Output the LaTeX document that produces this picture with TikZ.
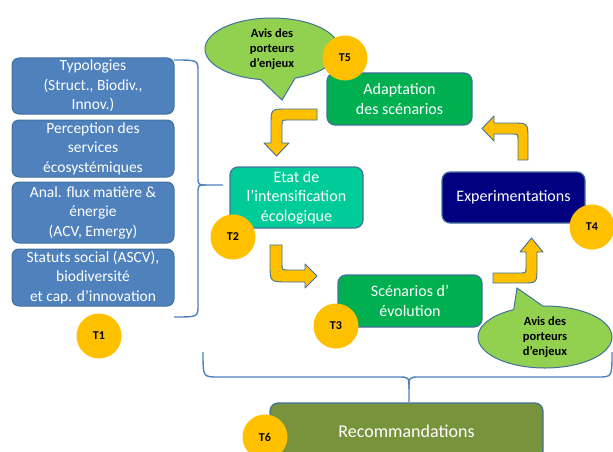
\documentclass[tikz,border=0pt]{standalone}
\usepackage{fontspec}
\setmainfont{Carlito}
\usetikzlibrary{shapes.callouts,shapes.geometric}
\definecolor{bordc}{HTML}{41719C}
\definecolor{boxblue}{HTML}{4F81BD}
\definecolor{braceblue}{HTML}{4F81BD}
\definecolor{grbox}{HTML}{00B050}
\definecolor{tealbox}{HTML}{00CC99}
\definecolor{navybox}{HTML}{000080}
\definecolor{olivebox}{HTML}{77933C}
\definecolor{tagyellow}{HTML}{FFC000}
\definecolor{avisgreen}{HTML}{92D050}
\begin{document}
\begin{tikzpicture}[x=1pt,y=-1pt,
  bluebox/.style={draw=bordc, line width=1pt, fill=boxblue, rounded corners=7pt, text=white, align=center,
    font=\fontsize{15.5}{19.5}\selectfont, minimum width=162pt, inner sep=0pt},
  mainbox/.style={draw=bordc, line width=1.2pt, rounded corners=8pt, text=white, align=center,
    font=\fontsize{16}{19.5}\selectfont, inner sep=0pt},
  tag/.style={circle, fill=tagyellow, minimum size=45pt, inner sep=0pt, font=\bfseries\fontsize{12}{14}\selectfont},
  avisbubble/.style={ellipse callout, draw=bordc, line width=1pt, fill=avisgreen, inner sep=0pt, align=center,
    font=\bfseries\fontsize{12.5}{15}\selectfont, minimum width=134pt, minimum height=62pt},
  yarrow/.style={fill=tagyellow, draw=bordc, line width=0.9pt, line join=round},
  bracestyle/.style={draw=braceblue, line width=1.4pt}
]
\useasboundingbox (0,0) rectangle (613,452);

% left column boxes
\node[bluebox, minimum height=56pt] (b1) at (93,86) {Typologies\\(Struct., Biodiv.,\\Innov.)};
\node[bluebox, minimum height=57pt] (b2) at (93,148.5) {Perception des\\services\\écosystémiques};
\node[bluebox, minimum height=61pt] (b3) at (93,212.5) {Anal. flux matière \&\\énergie\\(ACV, Emergy)};
\node[bluebox, minimum height=57pt] (b4) at (93,277.5) {Statuts social (ASCV),\\biodiversité\\et cap. d’innovation};

% left brace
\draw[bracestyle] (174,60) .. controls (198,60) .. (198,72) -- (198,176)
  .. controls (198,185) .. (206,185) -- (223,185);
\draw[bracestyle] (206,185) .. controls (198,185) .. (198,194) -- (198,305)
  .. controls (198,317) .. (174,317);

% main boxes
\node[mainbox, fill=grbox, minimum width=145pt, minimum height=52pt] (adapt) at (399.5,99) {Adaptation\\des scénarios};
\node[mainbox, fill=tealbox, minimum width=133pt, minimum height=61pt] (etat) at (296.5,197.5) {Etat de\\l’intensification\\écologique};
\node[mainbox, fill=grbox, minimum width=144pt, minimum height=52pt] (scen) at (410,301) {Scénarios d’\\évolution};
\node[mainbox, fill=navybox, minimum width=143pt, minimum height=51pt] (expe) at (513.5,197.5) {Experimentations};

% bottom brace
\draw[bracestyle] (203,352) .. controls (203,377) .. (218,377) -- (398,377)
  .. controls (409,377) .. (409,389) -- (409,402);
\draw[bracestyle] (409,389) .. controls (409,377) .. (420,377) -- (598,377)
  .. controls (612,377) .. (612,352);

\node[mainbox, fill=olivebox, minimum width=273pt, minimum height=56pt, font=\fontsize{18}{21}\selectfont] (reco) at (406.5,431) {Recommandations};

% bent arrows
\path[yarrow] (317,109) -- (287,109) .. controls (271,109) .. (271,125) -- (271,143) -- (264,143)
  -- (276.5,156) -- (289,143) -- (282,143) -- (282,126) .. controls (282,120) .. (288,120) -- (317,120) -- cycle;
\path[yarrow] (270,245) -- (270,264) .. controls (270,282) .. (288,282) -- (305,282) -- (305,288)
  -- (317,276) -- (305,264) -- (305,270) -- (288,270) .. controls (282,270) .. (282,264) -- (282,245) -- cycle;
\path[yarrow] (493,273) -- (520,273) .. controls (526,273) .. (526,267) -- (526,252) -- (520,252)
  -- (531.5,238) -- (543,252) -- (537,252) -- (537,268) .. controls (537,283) .. (522,283) -- (493,283) -- cycle;
\path[yarrow] (518,160) -- (518,140) .. controls (518,134) .. (512,134) -- (494,134) -- (494,141)
  -- (482,128.5) -- (494,116) -- (494,123) -- (512,123) .. controls (528,123) .. (528,139) -- (528,160) -- cycle;

% callouts
\node[avisbubble, callout absolute pointer={(282,100)}, callout pointer arc=30] (avis1) at (272,49) {Avis des\\porteurs\\d’enjeux};
\node[avisbubble, callout absolute pointer={(517,288)}, callout pointer arc=26] (avis2) at (545,337) {Avis des\\porteurs\\d’enjeux};

% tags
\node[tag] (t1) at (99,336) {T1};
\node[tag] (t2) at (233,237) {T2};
\node[tag] (t3) at (336,326) {T3};
\node[tag] (t4) at (592,227) {T4};
\node[tag] (t5) at (345,58) {T5};
\node[tag] (t6) at (265,437) {T6};
\end{tikzpicture}
\end{document}
